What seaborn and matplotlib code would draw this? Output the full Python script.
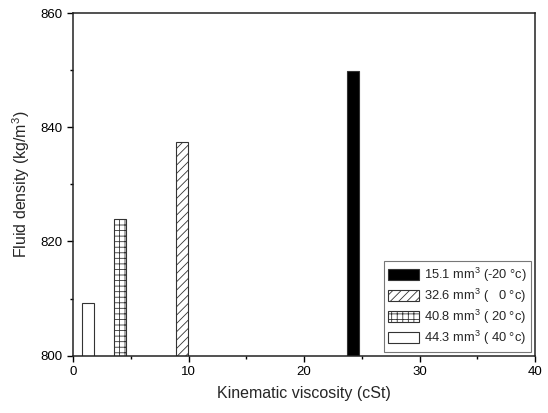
import numpy as np
import pandas as pd
import seaborn as sns
import matplotlib
matplotlib.use("Agg")
import matplotlib.pyplot as plt
from matplotlib.ticker import MultipleLocator

# data
labels = ["15.1 mm$^3$ (-20 \u00b0c)",
          "32.6 mm$^3$ ( \u20070 \u00b0c)",
          "40.8 mm$^3$ ( 20 \u00b0c)",
          "44.3 mm$^3$ ( 40 \u00b0c)"]
viscosity = [24.26, 9.40, 4.06, 1.25]      # cSt
density = [849.8, 837.4, 823.9, 809.3]     # kg/m3
fills = ["black", "white", "white", "white"]
hatches = ["", "////", "+++", ""]
bar_w = 1.04

sns.set_style("ticks")
plt.rcParams["font.family"] = ["Liberation Sans", "DejaVu Sans"]
plt.rcParams["mathtext.default"] = "regular"
plt.rcParams["hatch.linewidth"] = 0.6
plt.rcParams["hatch.color"] = "#333333"

df = pd.DataFrame({"visc": viscosity, "dens": density, "lab": labels})

fig = plt.figure(figsize=(5.48, 4.13), dpi=100)
ax = fig.add_axes([0.1337, 0.139, 0.8425, 0.829])

min_gap = np.min(np.diff(np.sort(viscosity)))
sns.barplot(data=df, x="visc", y="dens", hue="lab", hue_order=labels,
            palette=dict(zip(labels, fills)), native_scale=True, dodge=False,
            width=bar_w / min_gap, errorbar=None, legend=False,
            edgecolor="#333333", linewidth=0.8, ax=ax)

for p, h in zip(ax.patches, hatches):
    p.set_hatch(h)

ax.set_xlim(0, 40)
ax.set_ylim(800, 860)
ax.xaxis.set_major_locator(MultipleLocator(10))
ax.xaxis.set_minor_locator(MultipleLocator(5))
ax.yaxis.set_major_locator(MultipleLocator(20))
ax.yaxis.set_minor_locator(MultipleLocator(10))
ax.tick_params(which="major", direction="out", length=4, width=1,
               labelsize=9.5, color="black", labelcolor="black")
ax.tick_params(which="minor", direction="out", length=2.5, width=1, color="black")
for s in ax.spines.values():
    s.set_visible(True)
    s.set_linewidth(1.1)
    s.set_color("#222222")

ax.set_xlabel("Kinematic viscosity (cSt)", fontsize=11.5, labelpad=6)
ax.set_ylabel("Fluid density (kg/m$^3$)", fontsize=11.5, labelpad=6)

leg = ax.legend(ax.patches[:4], labels, loc="lower right", fontsize=9.3,
                frameon=True, fancybox=False, framealpha=1,
                edgecolor="#777777", handlelength=2.4, handleheight=0.95,
                handletextpad=0.35, labelspacing=0.22, borderpad=0.35,
                borderaxespad=0.3)
leg.get_frame().set_linewidth(0.8)

fig.savefig("out.png", dpi=100)
